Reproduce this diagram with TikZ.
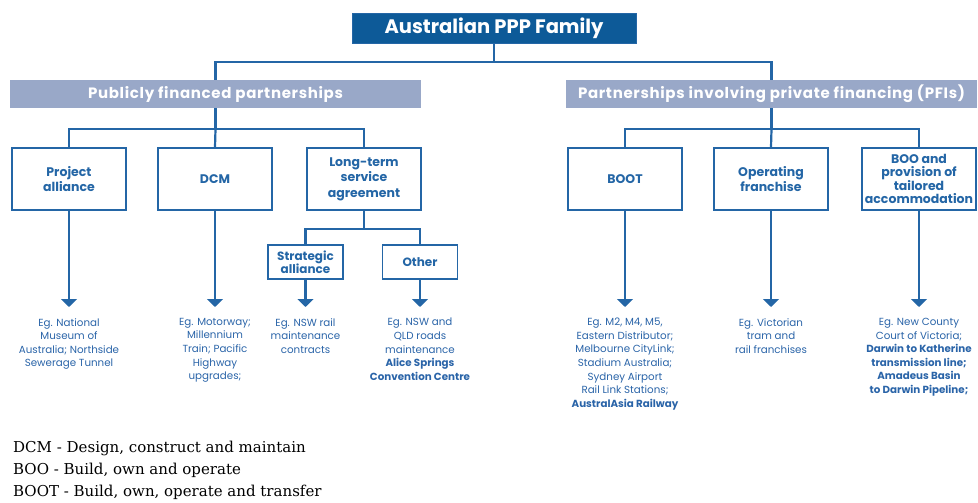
\documentclass[tikz,border=0pt]{standalone}
\usepackage{fontspec}
\newfontfamily\gothic{Poppins}
\newfontfamily\legserif{DejaVu Serif}
\usetikzlibrary{arrows.meta,positioning}
\definecolor{titleblue}{HTML}{0D5A98}
\definecolor{barblue}{HTML}{99A8C8}
\definecolor{lineblue}{HTML}{2466A6}
\definecolor{txtblue}{HTML}{2A64A8}
\tikzset{
  titlebox/.style={draw=lineblue,fill=titleblue,text=white,minimum width=284pt,minimum height=30pt,inner sep=0pt,font=\gothic\bfseries\fontsize{19.5}{21}\selectfont},
  barbox/.style={fill=barblue,text=white,minimum width=411pt,minimum height=28pt,inner sep=0pt,font=\gothic\bfseries\fontsize{15}{16}\selectfont\addfontfeature{LetterSpace=4.5}},
  catbox/.style={draw=lineblue,line width=1.8pt,fill=white,text=lineblue,minimum width=114pt,minimum height=62pt,inner sep=0pt,align=center,font=\gothic\bfseries\fontsize{12.5}{15.5}\selectfont},
  subbox/.style={draw=lineblue,line width=1.8pt,fill=white,text=lineblue,minimum width=75pt,minimum height=34pt,inner sep=0pt,align=center,font=\gothic\bfseries\fontsize{12}{13}\selectfont},
  conn/.style={draw=lineblue,line width=2.2pt},
  arr/.style={conn,-{Triangle[width=16pt,length=8pt]}},
  extext/.style={text=txtblue,align=center,inner xsep=0pt,inner ysep=11pt,anchor=north,font=\gothic\fontsize{10.3}{13.6}\selectfont},
  legend/.style={anchor=base west,inner sep=0pt,font=\legserif\fontsize{15}{17}\selectfont}
}
\begin{document}
\begin{tikzpicture}[x=1pt,y=-1pt]
\useasboundingbox (0,0) rectangle (978,503);
% title
\node[titlebox] (title) at (494,28) {Australian PPP Family};
% bars
\node[barbox] (pub) at (215.5,94) {Publicly financed partnerships};
\node[barbox] (pfi) at (771.5,94) {Partnerships involving private financing (PFIs)};
% category boxes
\node[catbox] (pa) at (69,179) {Project\\alliance};
\node[catbox] (dcm) at (215,179) {DCM};
\node[catbox] (lta) at (364,179) {Long-term\\service\\agreement};
\node[catbox] (boot) at (625,179) {BOOT};
\node[catbox] (opf) at (771,179) {Operating\\franchise};
\node[catbox,font=\gothic\bfseries\fontsize{12.5}{13.5}\selectfont] (boo) at (919,179) {BOO and\\provision of\\tailored\\accommodation};
% sub boxes
\node[subbox] (sa) at (305.5,262) {Strategic\\alliance};
\node[subbox] (oth) at (420,262) {Other};
% example texts
\node[extext] (e1) at (69,307) {Eg. National\\Museum of\\Australia; Northside\\Sewerage Tunnel};
\node[extext] (e2) at (215,307) {Eg. Motorway;\\Millennium\\Train; Pacific\\Highway\\upgrades;};
\node[extext] (e3) at (305.5,307) {Eg. NSW rail\\maintenance\\contracts};
\node[extext] (e4) at (420,307) {Eg. NSW and\\QLD roads\\maintenance\\\textbf{Alice Springs}\\\textbf{Convention Centre}};
\node[extext] (e5) at (625,307) {Eg. M2, M4, M5,\\Eastern Distributor;\\Melbourne CityLink;\\Stadium Australia;\\Sydney Airport\\Rail Link Stations;\\\textbf{AustralAsia Railway}};
\node[extext] (e6) at (771,307) {Eg. Victorian\\tram and\\rail franchises};
\node[extext] (e7) at (919,307) {Eg. New County\\Court of Victoria;\\\textbf{Darwin to Katherine}\\\textbf{transmission line;}\\\textbf{Amadeus Basin}\\\textbf{to Darwin Pipeline;}};
% connectors
\draw[conn] (title.south) -- ++(0,19) coordinate (bus0);
\draw[conn] (bus0) -| (pub.north);
\draw[conn] (bus0) -| (pfi.north);
\draw[conn] (pub.south) -- ++(0,21) coordinate (busL);
\draw[conn] (busL) -| (pa.north);
\draw[conn] (busL) -| (lta.north);
\draw[conn] (busL) -- (dcm.north);
\draw[conn] (pfi.south) -- ++(0,21) coordinate (busR);
\draw[conn] (busR) -| (boot.north);
\draw[conn] (busR) -| (boo.north);
\draw[conn] (busR) -- (opf.north);
\draw[conn] (lta.south) -- ++(0,18) coordinate (busS);
\draw[conn] (busS) -| (sa.north);
\draw[conn] (busS) -| (oth.north);
% arrows
\draw[arr] (pa.south) -- (e1.north);
\draw[arr] (dcm.south) -- (e2.north);
\draw[arr] (sa.south) -- (e3.north);
\draw[arr] (oth.south) -- (e4.north);
\draw[arr] (boot.south) -- (e5.north);
\draw[arr] (opf.south) -- (e6.north);
\draw[arr] (boo.south) -- (e7.north);
% legend
\node[legend] (l1) at (13,452) {DCM - Design, construct and maintain};
\node[legend] (l2) at (13,474) {BOO - Build, own and operate};
\node[legend] (l3) at (13,496) {BOOT - Build, own, operate and transfer};
\end{tikzpicture}
\end{document}
